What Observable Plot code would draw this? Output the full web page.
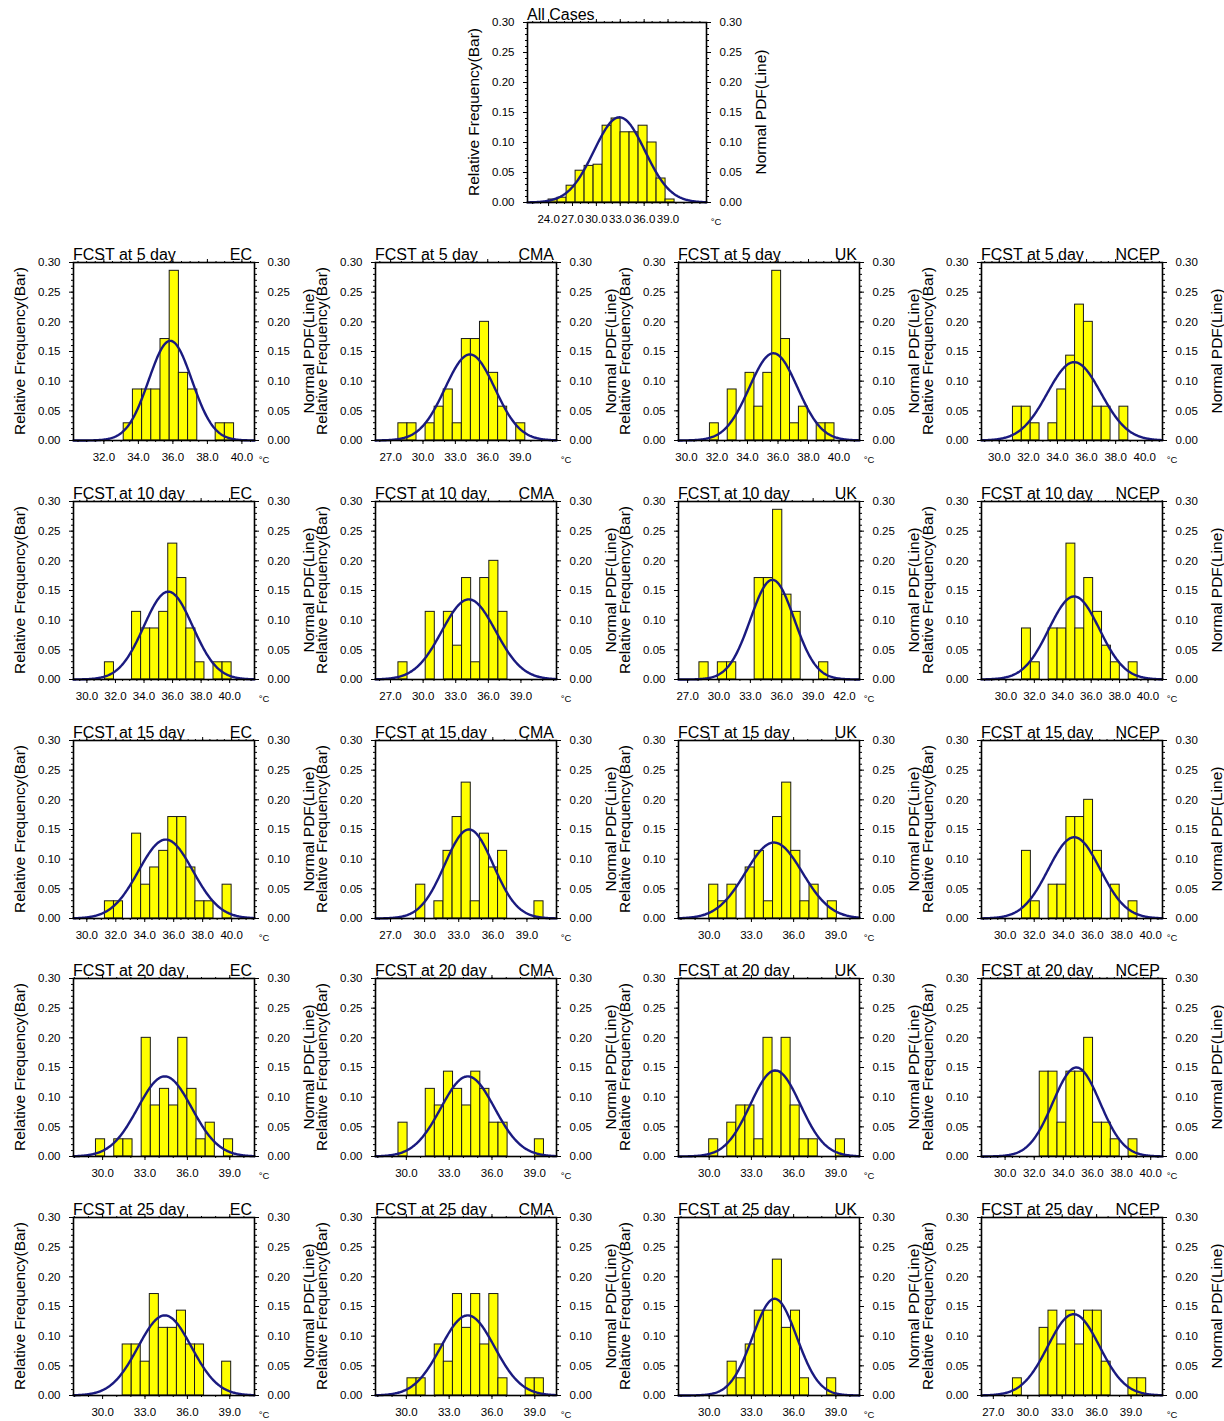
<!DOCTYPE html>
<html><head><meta charset="utf-8">
<script src="https://cdn.jsdelivr.net/npm/d3@7"></script>
<script src="https://cdn.jsdelivr.net/npm/@observablehq/plot@0.6"></script>
<style>
body{margin:0;background:#fff;}
#fig{position:relative;width:1224px;height:1421px;overflow:hidden;background:#fff;}
#fig svg{position:absolute;overflow:visible;}
</style></head><body><div id="fig"></div>
<script>
// ---- data (index 0 = All Cases, then rows of lead days x models) ----
const models = ["EC", "CMA", "UK", "NCEP"];
const leads = [5, 10, 15, 20, 25];

const xDomains = [
  [21.35, 43.83],
  [30.24, 40.73], [25.6, 42.37], [29.48, 41.34], [28.78, 41.22],
  [29.06, 41.74], [25.62, 42.27], [26.13, 43.43], [28.28, 41.02],
  [29.08, 41.58], [25.68, 41.6], [27.82, 40.68], [28.38, 40.81],
  [27.94, 40.75], [27.84, 40.52], [27.82, 40.68], [28.38, 40.81],
  [27.94, 40.75], [27.84, 40.52], [27.82, 40.68], [25.97, 41.74]
];
const xTicks = [
  [24, 27, 30, 33, 36, 39],
  [32, 34, 36, 38, 40], [27, 30, 33, 36, 39], [30, 32, 34, 36, 38, 40], [30, 32, 34, 36, 38, 40],
  [30, 32, 34, 36, 38, 40], [27, 30, 33, 36, 39], [27, 30, 33, 36, 39, 42], [30, 32, 34, 36, 38, 40],
  [30, 32, 34, 36, 38, 40], [27, 30, 33, 36, 39], [30, 33, 36, 39], [30, 32, 34, 36, 38, 40],
  [30, 33, 36, 39], [30, 33, 36, 39], [30, 33, 36, 39], [30, 32, 34, 36, 38, 40],
  [30, 33, 36, 39], [30, 33, 36, 39], [30, 33, 36, 39], [27, 30, 33, 36, 39]
];
const binStarts = [
  24.0,
  33.15, 27.72, 31.54, 30.94,
  31.26, 27.73, 28.13, 31.13,
  31.25, 29.26, 30.0, 31.16,
  29.53, 29.45, 30.0, 32.38,
  31.42, 30.08, 31.31, 28.71
];
const binWidths = [
  1.13,
  0.533, 0.84, 0.583, 0.61,
  0.634, 0.836, 0.88, 0.626,
  0.625, 0.8, 0.648, 0.61,
  0.647, 0.637, 0.643, 0.61,
  0.64, 0.637, 0.643, 0.774
];
const freqs = [
  [0.005, 0.008, 0.028, 0.053, 0.061, 0.063, 0.128, 0.14, 0.117, 0.117, 0.128, 0.1, 0.04, 0.005],
  [0.029, 0.086, 0.086, 0.086, 0.171, 0.286, 0.114, 0.086, 0, 0, 0.029, 0.029],
  [0.029, 0.029, 0, 0.029, 0.057, 0.086, 0.029, 0.171, 0.171, 0.2, 0.114, 0.057, 0, 0.029],
  [0.029, 0, 0.086, 0, 0.114, 0.057, 0.114, 0.286, 0.171, 0.029, 0.057, 0, 0.029, 0.029],
  [0.057, 0.057, 0.029, 0, 0.029, 0.086, 0.143, 0.229, 0.2, 0.057, 0.057, 0, 0.057],
  [0.029, 0, 0, 0.114, 0.086, 0.086, 0.114, 0.229, 0.171, 0.086, 0.029, 0, 0.029, 0.029],
  [0.029, 0, 0, 0.114, 0, 0.114, 0.057, 0.171, 0.029, 0.171, 0.2, 0.114],
  [0.029, 0, 0.029, 0.029, 0, 0, 0.171, 0.171, 0.286, 0.143, 0.114, 0, 0, 0.029],
  [0.086, 0.029, 0, 0.086, 0.086, 0.229, 0.086, 0.171, 0.114, 0.057, 0.029, 0, 0.029],
  [0.029, 0.029, 0, 0.143, 0.057, 0.086, 0.114, 0.171, 0.171, 0.086, 0.029, 0.029, 0, 0.057],
  [0.057, 0, 0.029, 0.114, 0.171, 0.229, 0.029, 0.143, 0.086, 0.114, 0, 0, 0, 0.029],
  [0.057, 0.029, 0.057, 0, 0.086, 0.114, 0.029, 0.171, 0.229, 0.114, 0.029, 0.057, 0, 0.029],
  [0.114, 0.029, 0, 0.057, 0.057, 0.171, 0.171, 0.2, 0.114, 0, 0.057, 0, 0.029],
  [0.029, 0, 0.029, 0.029, 0, 0.2, 0.086, 0.114, 0.086, 0.2, 0.114, 0.029, 0.057, 0, 0.029],
  [0.057, 0, 0, 0.114, 0.086, 0.143, 0.114, 0.086, 0.143, 0.114, 0.057, 0.057, 0, 0, 0, 0.029],
  [0.029, 0, 0.057, 0.086, 0.086, 0.029, 0.2, 0.143, 0.2, 0.086, 0.029, 0.029, 0, 0, 0.029],
  [0.143, 0.143, 0.057, 0.143, 0.143, 0.2, 0.057, 0.057, 0.029, 0, 0.029],
  [0.086, 0.086, 0.057, 0.171, 0.114, 0.114, 0.143, 0.086, 0.086, 0, 0, 0.057],
  [0.029, 0.029, 0, 0.086, 0.057, 0.171, 0.114, 0.171, 0.086, 0.171, 0.029, 0, 0, 0.029, 0.029],
  [0.057, 0.029, 0.086, 0.143, 0.143, 0.229, 0.114, 0.143, 0.029, 0, 0, 0.029],
  [0.029, 0, 0, 0.114, 0.143, 0.086, 0.143, 0.086, 0.143, 0.143, 0.057, 0, 0, 0.029, 0.029]
];
// Normal PDF line: mean, standard deviation and peak height
const pdfMean = [
  32.9,
  35.85, 34.35, 35.7, 35.15,
  35.7, 34.2, 35.1, 34.8,
  35.45, 33.9, 34.6, 34.75,
  34.4, 34.3, 34.7, 34.9,
  34.4, 34.3, 34.65, 34.0
];
const pdfSigma = [
  3.2,
  1.25, 2.31, 1.58, 1.84,
  1.71, 2.47, 2.09, 1.78,
  1.87, 2.13, 2.02, 1.78,
  1.91, 1.88, 1.77, 1.62,
  1.89, 1.88, 1.57, 2.25
];
const pdfPeak = [
  0.142,
  0.168, 0.145, 0.147, 0.132,
  0.148, 0.135, 0.168, 0.14,
  0.133, 0.15, 0.128, 0.137,
  0.135, 0.135, 0.145, 0.15,
  0.135, 0.135, 0.163, 0.137
];
const yTicks = [0, 0.05, 0.10, 0.15, 0.20, 0.25, 0.30];

// ---- drawing ----
const FONT = "'Liberation Sans', Arial, Helvetica, sans-serif";
const fig = document.getElementById("fig");
const ML = 80, MR = 80, MT = 34, MB = 32;

function drawPanel(i, fx, fy, fw, fh, title, model) {
  const [lo, hi] = xDomains[i];
  const w = binWidths[i], x0 = binStarts[i];
  const bars = freqs[i].map((f, k) => ({x1: x0 + k * w, x2: x0 + (k + 1) * w, f})).filter(d => d.f > 0);
  const mu = pdfMean[i], sd = pdfSigma[i], pk = pdfPeak[i];
  const curve = d3.range(0, 241).map(j => {
    const x = lo + (hi - lo) * j / 240;
    return {x, y: pk * Math.exp(-0.5 * ((x - mu) / sd) ** 2)};
  });
  const step = xTicks[i][1] - xTicks[i][0];
  const ms = step === 2 ? 0.5 : 1;
  const xMinor = d3.range(Math.ceil(lo / ms) * ms, hi + 1e-9, ms);
  const yMinor = d3.range(0, 0.3001, 0.01);
  const blank = () => "";
  const svg = Plot.plot({
    width: fw + ML + MR, height: fh + MT + MB,
    marginLeft: ML, marginRight: MR, marginTop: MT, marginBottom: MB,
    x: {domain: [lo, hi]},
    y: {domain: [0, 0.3]},
    style: {background: "transparent", overflow: "visible", fontFamily: FONT, fontSize: "11.5px", color: "#000"},
    marks: [
      Plot.rectY(bars, {x1: "x1", x2: "x2", y: "f", fill: "#ffff00", stroke: "#1a1a1a", strokeWidth: 1}),
      Plot.line(curve, {x: "x", y: "y", stroke: "#1a1a80", strokeWidth: 2.4}),
      Plot.frame({stroke: "#000", strokeWidth: 1.6}),
      Plot.axisY({ticks: yTicks, anchor: "left", tickSize: 4, tickPadding: 9, tickFormat: d => d.toFixed(2), label: null}),
      Plot.axisY({ticks: yTicks, anchor: "right", tickSize: 4, tickPadding: 9, tickFormat: d => d.toFixed(2), label: null}),
      Plot.axisY({ticks: yMinor, anchor: "left", tickSize: 2, tickFormat: blank, label: null}),
      Plot.axisY({ticks: yMinor, anchor: "right", tickSize: 2, tickFormat: blank, label: null}),
      Plot.axisX({ticks: xTicks[i], anchor: "bottom", tickSize: 4, tickPadding: 8, tickFormat: d => d.toFixed(1), label: null}),
      Plot.axisX({ticks: xTicks[i], anchor: "top", tickSize: 4, tickFormat: blank, label: null}),
      Plot.axisX({ticks: xMinor, anchor: "bottom", tickSize: 2, tickFormat: blank, label: null}),
      Plot.axisX({ticks: xMinor, anchor: "top", tickSize: 2, tickFormat: blank, label: null})
    ]
  });
  const s = d3.select(svg);
  const addText = (x, y, t, opts) => {
    const el = s.append("text").attr("x", x).attr("y", y).text(t)
      .attr("font-family", FONT).attr("fill", "#000")
      .attr("font-size", opts.size).attr("text-anchor", opts.anchor || "middle");
    if (opts.baseline) el.attr("dominant-baseline", opts.baseline);
    if (opts.rotate) el.attr("transform", `rotate(${opts.rotate},${x},${y})`);
    return el;
  };
  addText(ML - 54, MT + fh / 2, "Relative Frequency(Bar)", {size: 15.5, rotate: -90, baseline: "central"});
  addText(ML + fw + 54, MT + fh / 2, "Normal PDF(Line)", {size: 15.5, rotate: -90, baseline: "central"});
  addText(ML, MT - 2, title, {size: 16, anchor: "start"});
  if (model) addText(ML + fw - 2, MT - 2, model, {size: 16, anchor: "end"});
  addText(ML + fw + 10, MT + fh + 19, "°C", {size: 9.5, baseline: "central"});
  svg.style.left = (fx - ML) + "px";
  svg.style.top = (fy - MT) + "px";
  fig.appendChild(svg);
}

drawPanel(0, 527, 22, 179, 180, "All Cases", null);
leads.forEach((lead, r) => {
  models.forEach((m, c) => {
    const i = 1 + r * 4 + c;
    drawPanel(i, 72.5 + c * 302.8, 262 + r * 238.75, 181, 178, `FCST at ${lead} day`, m);
  });
});
</script>
</body></html>
